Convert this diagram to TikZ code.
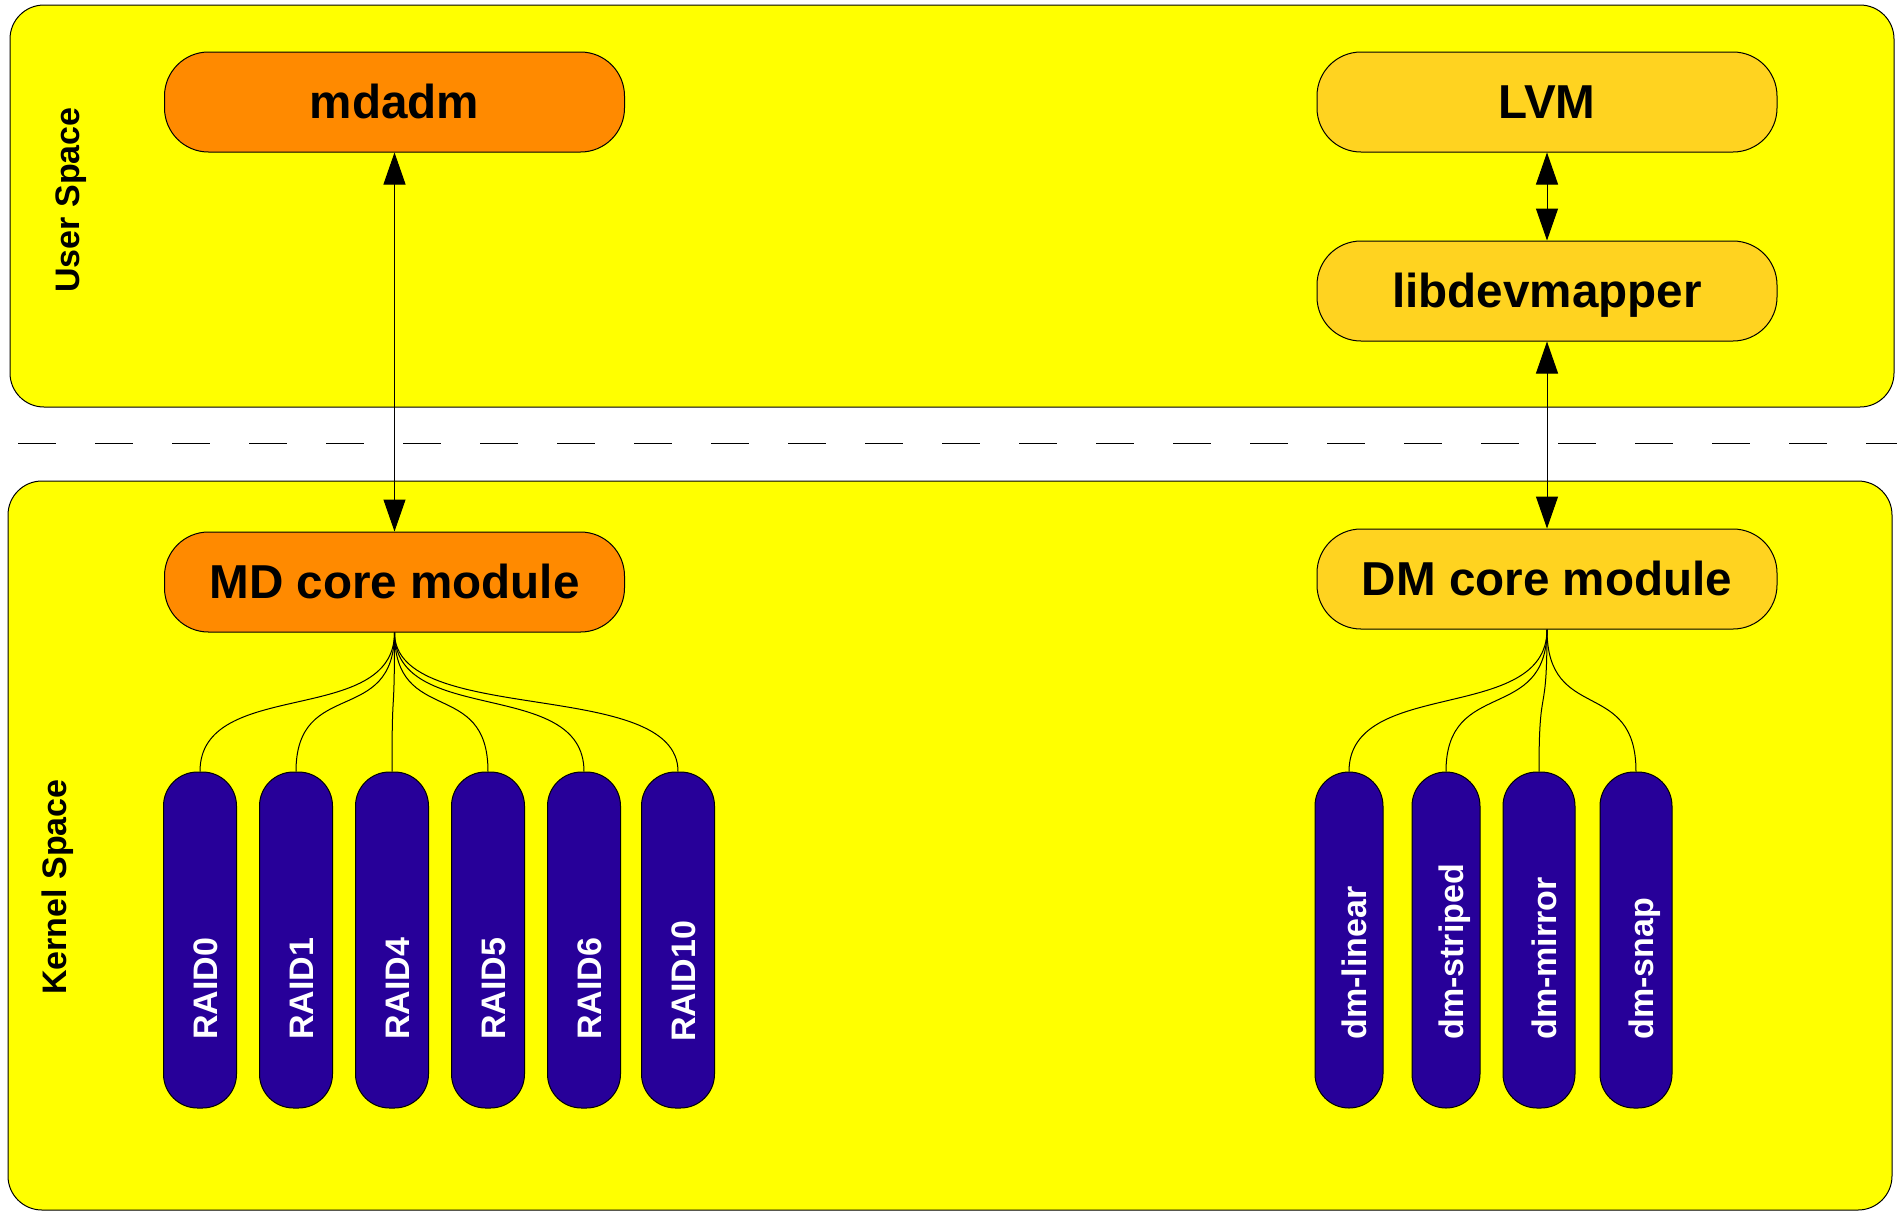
\documentclass[tikz,border=0pt]{standalone}
\usepackage{fontspec}
\setmainfont{Liberation Sans}
\usetikzlibrary{arrows.meta}

\definecolor{panelyellow}{HTML}{FFFF00}
\definecolor{mdorange}{HTML}{FF8A00}
\definecolor{dmgold}{HTML}{FFD320}
\definecolor{modblue}{HTML}{270099}

\tikzset{
  panel/.style={draw=black, line width=0.5pt, fill=panelyellow,
    rounded corners=17pt, inner sep=0pt, minimum width=942pt},
  toolbox/.style={draw=black, line width=0.5pt, rounded corners=22pt,
    minimum width=230pt, minimum height=50pt, inner sep=0pt,
    font=\fontsize{23.8}{28}\selectfont\bfseries,
    text height=16.5pt, text depth=0pt},
  mdbox/.style={toolbox, fill=mdorange},
  dmbox/.style={toolbox, fill=dmgold},
  pill/.style={draw=black, line width=0.5pt, fill=modblue,
    minimum width=#1, minimum height=168pt, inner sep=0pt,
    rounded corners=17pt},
  pilltext/.style={rotate=90, anchor=base west, text=white, inner sep=0pt,
    font=\fontsize{17}{20}\selectfont\bfseries},
  sidetext/.style={rotate=90, anchor=base, inner sep=0pt,
    font=\fontsize{17}{20}\selectfont\bfseries},
  both/.style={line width=0.5pt,
    {Triangle[length=16pt,width=11pt]}-{Triangle[length=16pt,width=11pt]}},
  fan/.style={line width=0.5pt},
  divider/.style={line width=0.5pt, dash pattern=on 19pt off 19.5pt}
}

\begin{document}
\begin{tikzpicture}[x=0.5pt, y=-0.5pt]
  \useasboundingbox (0,0) rectangle (1903,1212);

  % the two address-space panels and the boundary between them
  \node[panel, minimum height=201pt] (user) at (952,206) {};
  \node[panel, minimum height=364.5pt] (kernel) at (950,845.5) {};
  \coordinate (sepL) at (18,443);
  \coordinate (sepR) at (1897,443);
  \draw[divider] (sepL) -- (sepR);

  \node[sidetext] (userlbl) at (79,200) {User Space};
  \node[sidetext] (kernellbl) at (67,887) {Kernel Space};

  % user-space tools
  \node[mdbox] (mdadm) at (394.5,102) {mdadm};
  \node[dmbox] (lvm) at (1547,102) {LVM};
  \node[dmbox] (libdm) at (1547,291) {libdevmapper};

  % kernel core modules
  \node[mdbox] (mdcore) at (394.5,582) {MD core module};
  \node[dmbox] (dmcore) at (1547,579) {DM core module};

  % MD personalities
  \node[pill=36.5pt] (raid0)  at (200,940) {};
  \node[pill=36.5pt] (raid1)  at (296,940) {};
  \node[pill=36.5pt] (raid4)  at (392,940) {};
  \node[pill=36.5pt] (raid5)  at (488,940) {};
  \node[pill=36.5pt] (raid6)  at (584,940) {};
  \node[pill=36.5pt] (raid10) at (678,940) {};

  \node[pilltext] (raid0txt)  at (217,1040) {RAID0};
  \node[pilltext] (raid1txt)  at (313,1040) {RAID1};
  \node[pilltext] (raid4txt)  at (409,1040) {RAID4};
  \node[pilltext] (raid5txt)  at (505,1040) {RAID5};
  \node[pilltext] (raid6txt)  at (601,1040) {RAID6};
  \node[pilltext] (raid10txt) at (695,1042) {RAID10};

  % device-mapper targets
  \node[pill=34pt] (dmlinear)  at (1349,940) {};
  \node[pill=34pt] (dmstriped) at (1446,940) {};
  \node[pill=36pt] (dmmirror)  at (1539,940) {};
  \node[pill=36pt] (dmsnap)    at (1636,940) {};

  \node[pilltext] (dmlineartxt)  at (1366,1040) {dm-linear};
  \node[pilltext] (dmstripedtxt) at (1463,1040) {dm-striped};
  \node[pilltext] (dmmirrortxt)  at (1556,1040) {dm-mirror};
  \node[pilltext] (dmsnaptxt)    at (1653,1040) {dm-snap};

  % user/kernel communication
  \draw[both] (mdadm.south) -- (mdcore.north);
  \draw[both] (lvm.south) -- (libdm.north);
  \draw[both] (libdm.south) -- (dmcore.north);

  % core modules fanning out to their sub-modules
  \foreach \m in {raid0,raid1,raid4,raid5,raid6,raid10}
    \draw[fan] (mdcore.south) .. controls +(0,95) and +(0,-95) .. (\m.north);
  \foreach \m in {dmlinear,dmstriped,dmmirror,dmsnap}
    \draw[fan] (dmcore.south) .. controls +(0,95) and +(0,-95) .. (\m.north);
\end{tikzpicture}
\end{document}
